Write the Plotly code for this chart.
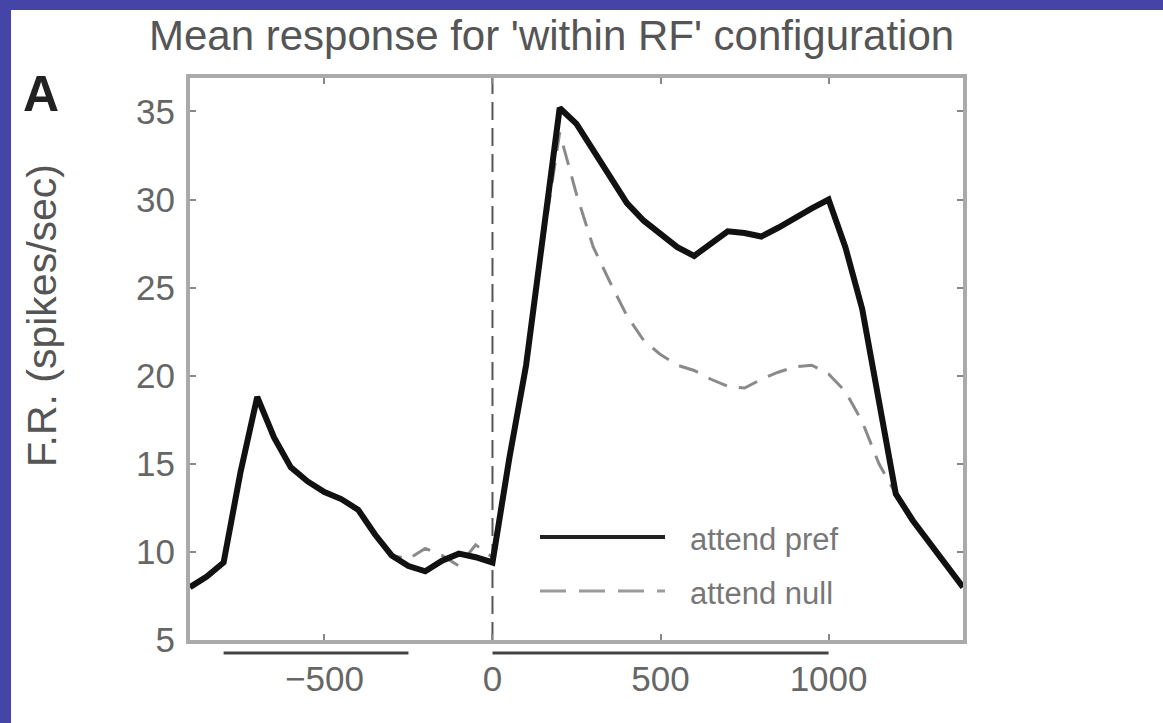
import plotly.graph_objects as go

# ---------------- data ----------------
time_ms = [-900, -850, -800, -750, -700, -650, -600, -550, -500, -450, -400, -350,
           -300, -250, -200, -150, -100, -50, 0, 50, 100, 150, 200, 250, 300, 350,
           400, 450, 500, 550, 600, 650, 700, 750, 800, 850, 900, 950, 1000, 1050,
           1100, 1150, 1200, 1250, 1300, 1350, 1400]

attend_pref = [8.0, 8.6, 9.4, 14.5, 18.8, 16.5, 14.8, 14.0, 13.4, 13.0, 12.4, 11.0,
               9.8, 9.2, 8.9, 9.5, 9.9, 9.7, 9.4, 15.3, 20.6, 27.8, 35.2, 34.3, 32.8, 31.2,
               29.8, 28.8, 28.0, 27.3, 26.8, 27.5, 28.2, 28.1, 27.9, 28.4, 29.0, 29.5, 30.0, 27.3,
               23.8, 18.6, 13.3, 11.8, 10.5, 9.2, 8.0]

attend_null = [8.0, 8.6, 9.4, 14.5, 18.8, 16.5, 14.8, 14.0, 13.4, 13.0, 12.4, 11.0,
               9.8, 9.6, 10.2, 9.8, 9.2, 10.4, 9.7, 15.1, 20.4, 27.5, 33.8, 30.3, 27.3, 25.3,
               23.4, 22.0, 21.2, 20.6, 20.3, 19.8, 19.4, 19.3, 19.8, 20.2, 20.5, 20.6, 20.1, 19.1,
               17.4, 15.0, 13.3, 11.8, 10.5, 9.2, 8.0]

series_names = ["attend pref", "attend null"]
x_tick_vals = [-500, 0, 500, 1000]
y_tick_vals = [5, 10, 15, 20, 25, 30, 35]
epoch_bars = [(-800, -250), (0, 1000)]   # analysis epochs marked under the axis
stim_onset = 0

title_text = "Mean response for 'within RF' configuration"
y_title = "F.R. (spikes/sec)"
panel_label = "A"

# ---------------- layout geometry ----------------
W, H = 1163, 723
L, R, T, B = 190, 963, 78, 640        # plot area in pixels
PW, PH = R - L, B - T


def px(xp):
    return (xp - L) / PW


def py(yp):
    return (B - yp) / PH


FONT = "Liberation Sans, Arial, sans-serif"
BLUE = "#4545A8"

fig = go.Figure()
fig.add_trace(go.Scatter(x=time_ms, y=attend_null, mode="lines", name=series_names[1],
                         line=dict(color="#8a8a8a", width=3, dash="20px,12px")))
fig.add_trace(go.Scatter(x=time_ms, y=attend_pref, mode="lines", name=series_names[0],
                         line=dict(color="#111111", width=6)))

shapes = []
# blue frame strips (top and left)
shapes.append(dict(type="rect", xref="paper", yref="paper", x0=px(0), x1=px(11),
                   y0=py(H), y1=py(0), fillcolor=BLUE, line=dict(width=0), layer="above"))
shapes.append(dict(type="rect", xref="paper", yref="paper", x0=px(0), x1=px(W),
                   y0=py(10), y1=py(0), fillcolor=BLUE, line=dict(width=0), layer="above"))
# stimulus onset line
shapes.append(dict(type="line", xref="x", yref="paper", x0=stim_onset, x1=stim_onset,
                   y0=0, y1=1, line=dict(color="#555555", width=2, dash="18px,8px"),
                   layer="below"))
# epoch bars under the axis
for a, b in epoch_bars:
    shapes.append(dict(type="line", xref="x", yref="paper", x0=a, x1=b,
                       y0=py(653), y1=py(653), line=dict(color="#444444", width=3)))
# legend samples
shapes.append(dict(type="line", xref="paper", yref="paper", x0=px(540), x1=px(665),
                   y0=py(537), y1=py(537), line=dict(color="#222222", width=4)))
shapes.append(dict(type="line", xref="paper", yref="paper", x0=px(540), x1=px(665),
                   y0=py(591), y1=py(591), line=dict(color="#9a9a9a", width=3, dash="26px,13px")))

annotations = [
    dict(text=title_text, xref="paper", yref="paper", x=px(551), y=py(36),
         showarrow=False, xanchor="center", yanchor="middle",
         font=dict(family=FONT, size=42, color="#555555")),
    dict(text=y_title, xref="paper", yref="paper", x=px(42), y=py(316),
         showarrow=False, xanchor="center", yanchor="middle", textangle=-90,
         font=dict(family=FONT, size=41, color="#555555")),
    dict(text="<b>" + panel_label + "</b>", xref="paper", yref="paper", x=px(41), y=py(94),
         showarrow=False, xanchor="center", yanchor="middle",
         font=dict(family=FONT, size=50, color="#222222")),
    dict(text=series_names[0], xref="paper", yref="paper", x=px(688), y=py(539),
         showarrow=False, xanchor="left", yanchor="middle",
         font=dict(family=FONT, size=31, color="#777777")),
    dict(text=series_names[1], xref="paper", yref="paper", x=px(688), y=py(593),
         showarrow=False, xanchor="left", yanchor="middle",
         font=dict(family=FONT, size=31, color="#777777")),
]

axis_common = dict(showline=True, linecolor="#aaaaaa", linewidth=4, mirror="ticks",
                   ticks="inside", ticklen=6, tickwidth=2, tickcolor="#888888",
                   showgrid=False, zeroline=False,
                   tickfont=dict(family=FONT, size=35, color="#666666"))

fig.update_layout(
    width=W, height=H,
    margin=dict(l=L, r=W - R, t=T, b=H - B, pad=0),
    paper_bgcolor="white", plot_bgcolor="white",
    showlegend=False,
    shapes=shapes, annotations=annotations,
    xaxis=dict(range=[-900, 1400], tickvals=x_tick_vals, ticklabelstandoff=5, **axis_common),
    yaxis=dict(range=[5, 36.9], tickvals=y_tick_vals, ticklabelstandoff=4, **axis_common),
)

fig.write_html("out.html")
